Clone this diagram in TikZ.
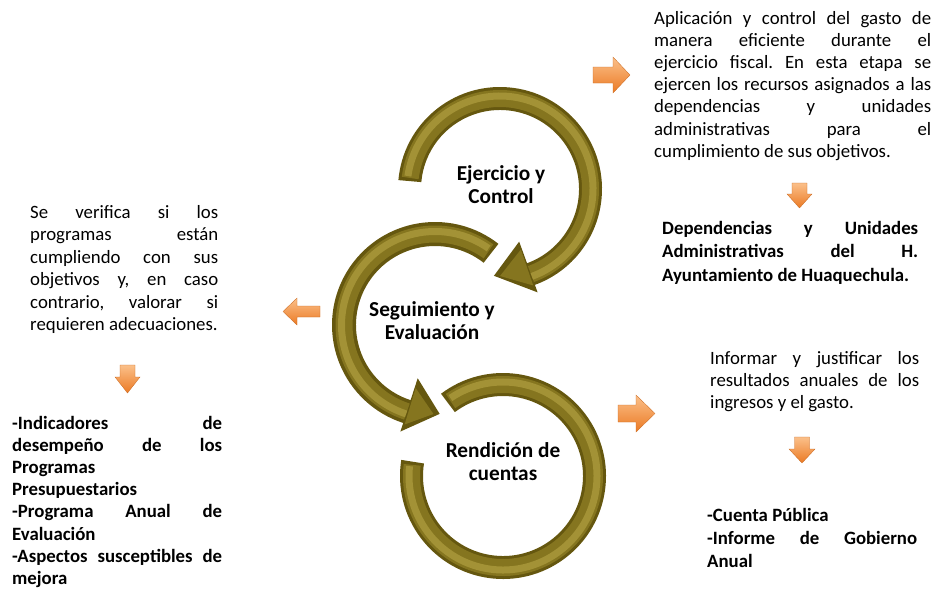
\documentclass[tikz,border=0pt]{standalone}
\usepackage{fontspec}
\setmainfont{Carlito}
\tolerance=10000 \hbadness=10000 \hyphenpenalty=10000
\frenchspacing
\definecolor{oliveD}{HTML}{65570F}
\definecolor{oliveM}{HTML}{85751F}
\definecolor{oliveL}{HTML}{A39236}
\definecolor{orgL}{HTML}{FBC08A}
\definecolor{orgD}{HTML}{EB7A24}
\tikzset{
  para/.style={anchor=base west, inner sep=0pt, align=justify, font=\fontsize{18.8}{22.2}\selectfont},
  bpara/.style={para, font=\fontsize{18.8}{22.4}\selectfont\bfseries},
  label/.style={inner sep=0pt, align=center, font=\fontsize{21.3}{23}\selectfont\bfseries},
  ringfill/.style={fill=oliveD},
  ringmid/.style={draw=oliveM, line width=17pt},
  ringhi/.style={draw=oliveL, line width=7pt},
  orangearrow/.style={top color=orgL, bottom color=orgD, draw=orgD!85!black, line width=0.3pt}
}
\begin{document}
\begin{tikzpicture}[x=1pt,y=-1pt]
\useasboundingbox (0,0) rectangle (936,592);
% bottom ring: Rendicion de cuentas
\begin{scope}[shift={(503,476)}]
  \fill[ringfill] (-127:103) arc[start angle=-127,end angle=189,radius=103] -- (189:80) arc[start angle=189,end angle=-127,radius=80] -- cycle;
  \draw[ringmid] (-125:91.5) arc[start angle=-125,end angle=187,radius=91.5];
  \draw[ringhi] (-124:94) arc[start angle=-124,end angle=186,radius=94];
\end{scope}
% middle ring: Seguimiento y Evaluacion
\begin{scope}[shift={(435,325)}]
  \fill[ringfill] (-52:103) arc[start angle=-52,end angle=-252,radius=103] -- (-252:112) -- (-273:89) -- (-252:56) -- (-252:79) arc[start angle=-252,end angle=-52,radius=79] -- cycle;
  \draw[ringmid] (-54:91) arc[start angle=-54,end angle=-252,radius=91];
  \draw[ringhi] (-55:93.5) arc[start angle=-55,end angle=-252,radius=93.5];
  \fill[oliveM] (-253:104) -- (-269:89) -- (-253:66) -- cycle;
\end{scope}
% top ring: Ejercicio y Control
\begin{scope}[shift={(500,189)}]
  \fill[ringfill] (-175:102) arc[start angle=-175,end angle=70,radius=102] -- (70:110) -- (94:87) -- (70:56) -- (70:79) arc[start angle=70,end angle=-175,radius=79] -- cycle;
  \draw[ringmid] (-173:90.5) arc[start angle=-173,end angle=70,radius=90.5];
  \draw[ringhi] (-172:93) arc[start angle=-172,end angle=70,radius=93];
  \fill[oliveM] (71:102) -- (90:87) -- (71:64) -- cycle;
\end{scope}
% ring labels
\node[label] (ejer) at (501,185) {Ejercicio y\\Control};
\node[label] (segu) at (432,321) {Seguimiento y\\Evaluación};
\node[label] (rend) at (503,462) {Rendición de\\cuentas};
% orange arrows
\path[orangearrow] (593,67) -- (613,67) -- (613,57) -- (630,75) -- (613,93) -- (613,83) -- (593,83) -- cycle;
\path[orangearrow] (320,306) -- (297,306) -- (297,298) -- (283,311.5) -- (297,325) -- (297,317) -- (320,317) -- cycle;
\path[orangearrow] (618,405) -- (636,405) -- (636,395) -- (655,413.5) -- (636,432) -- (636,422) -- (618,422) -- cycle;
\path[orangearrow] (120,365) -- (135,365) -- (135,377) -- (140,377) -- (127.5,393) -- (115,377) -- (120,377) -- cycle;
\path[orangearrow] (792,183) -- (807,183) -- (807,194) -- (812,194) -- (799.5,208) -- (787,194) -- (792,194) -- cycle;
\path[orangearrow] (794.5,437) -- (809.5,437) -- (809.5,449) -- (815,449) -- (802,463) -- (789,449) -- (794.5,449) -- cycle;
% texts
\node[para, text width=277pt] (tA) at (654,24) {Aplicación y control del gasto de\linebreak manera eficiente durante el\linebreak ejercicio fiscal. En esta etapa se\linebreak ejercen los recursos asignados a las\linebreak dependencias y unidades\linebreak administrativas para el\linebreak cumplimiento de sus objetivos.};
\node[bpara, text width=256pt, font=\fontsize{18.8}{23.5}\selectfont\bfseries] (tB) at (662,234) {Dependencias y Unidades\linebreak Administrativas del H.\linebreak Ayuntamiento de Huaquechula.};
\node[para, text width=188pt, font=\fontsize{18.8}{22.5}\selectfont] (tC) at (30,218) {Se verifica si los\linebreak programas están\linebreak cumpliendo con sus\linebreak objetivos y, en caso\linebreak contrario, valorar si\linebreak requieren adecuaciones.};
\node[bpara, text width=210pt, font=\fontsize{18.8}{22.2}\selectfont\bfseries] (tD) at (12,429) {-Indicadores de\linebreak desempeño de los\linebreak Programas\linebreak Presupuestarios\par -Programa Anual de\linebreak Evaluación\par -Aspectos susceptibles de\linebreak mejora};
\node[para, text width=209pt] (tE) at (710,364) {Informar y justificar los\linebreak resultados anuales de los\linebreak ingresos y el gasto.};
\node[bpara, text width=210pt, font=\fontsize{18.8}{23}\selectfont\bfseries] (tF) at (707,521) {-Cuenta Pública\par -Informe de Gobierno\linebreak Anual};
\end{tikzpicture}
\end{document}
